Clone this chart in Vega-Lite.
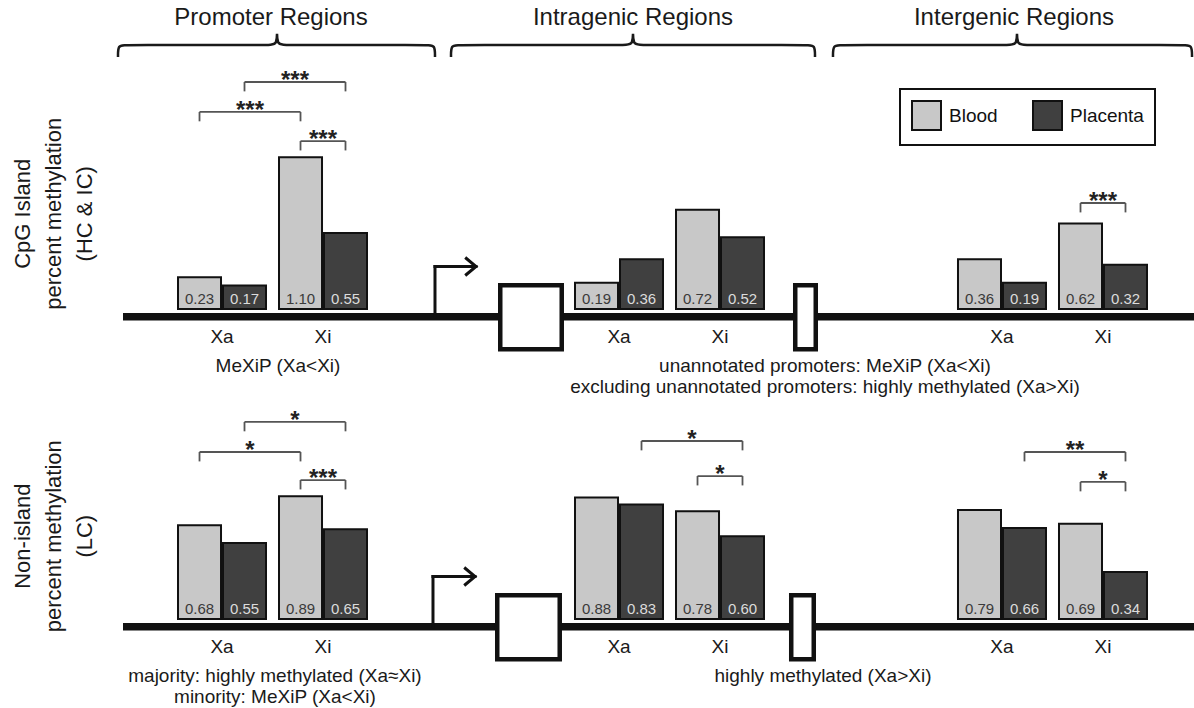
{
  "$schema": "https://vega.github.io/schema/vega-lite/v6.json",
  "padding": 0,
  "background": "white",
  "config": {
    "view": {"stroke": null},
    "font": "Liberation Sans",
    "text": {"font": "Liberation Sans"},
    "legend": {"strokeColor": "#111", "strokeWidth": 2}
  },
  "resolve": {"scale": {"fill": "independent"}, "legend": {"fill": "independent"}},
  "datasets": {
    "d": [
      {"kind": "ylabel", "region": "Label", "row": "CpG Island", "label": "CpG Island\npercent methylation\n(HC & IC)"},
      {"kind": "ylabel", "region": "Label", "row": "Non-island", "label": "Non-island\npercent methylation\n(LC)"},

      {"kind": "title", "region": "Promoter", "row": "CpG Island", "pos": 0.4737, "label": "Promoter Regions"},
      {"kind": "title", "region": "Intragenic", "row": "CpG Island", "pos": 0.4987, "label": "Intragenic Regions"},
      {"kind": "title", "region": "Intergenic", "row": "CpG Island", "pos": 0.5109, "label": "Intergenic Regions"},

      {"kind": "brace", "region": "Promoter", "row": "CpG Island", "seq": 1, "bx": 0, "by": 1.826},
      {"kind": "brace", "region": "Promoter", "row": "CpG Island", "seq": 2, "bx": 0, "by": 1.913},
      {"kind": "brace", "region": "Promoter", "row": "CpG Island", "seq": 3, "bx": 0.0217, "by": 1.913},
      {"kind": "brace", "region": "Promoter", "row": "CpG Island", "seq": 4, "bx": 0.4706, "by": 1.913},
      {"kind": "brace", "region": "Promoter", "row": "CpG Island", "seq": 5, "bx": 0.4923, "by": 1.913},
      {"kind": "brace", "region": "Promoter", "row": "CpG Island", "seq": 6, "bx": 0.4923, "by": 2.036},
      {"kind": "brace", "region": "Promoter", "row": "CpG Island", "seq": 7, "bx": 0.4923, "by": 1.913},
      {"kind": "brace", "region": "Promoter", "row": "CpG Island", "seq": 8, "bx": 0.514, "by": 1.913},
      {"kind": "brace", "region": "Promoter", "row": "CpG Island", "seq": 9, "bx": 0.9597, "by": 1.913},
      {"kind": "brace", "region": "Promoter", "row": "CpG Island", "seq": 10, "bx": 0.9814, "by": 1.913},
      {"kind": "brace", "region": "Promoter", "row": "CpG Island", "seq": 11, "bx": 0.9814, "by": 1.826},

      {"kind": "brace", "region": "Intragenic", "row": "CpG Island", "seq": 1, "bx": 0.026, "by": 1.826},
      {"kind": "brace", "region": "Intragenic", "row": "CpG Island", "seq": 2, "bx": 0.026, "by": 1.913},
      {"kind": "brace", "region": "Intragenic", "row": "CpG Island", "seq": 3, "bx": 0.0442, "by": 1.913},
      {"kind": "brace", "region": "Intragenic", "row": "CpG Island", "seq": 4, "bx": 0.4805, "by": 1.913},
      {"kind": "brace", "region": "Intragenic", "row": "CpG Island", "seq": 5, "bx": 0.4987, "by": 1.913},
      {"kind": "brace", "region": "Intragenic", "row": "CpG Island", "seq": 6, "bx": 0.4987, "by": 2.036},
      {"kind": "brace", "region": "Intragenic", "row": "CpG Island", "seq": 7, "bx": 0.4987, "by": 1.913},
      {"kind": "brace", "region": "Intragenic", "row": "CpG Island", "seq": 8, "bx": 0.5169, "by": 1.913},
      {"kind": "brace", "region": "Intragenic", "row": "CpG Island", "seq": 9, "bx": 0.9532, "by": 1.913},
      {"kind": "brace", "region": "Intragenic", "row": "CpG Island", "seq": 10, "bx": 0.9714, "by": 1.913},
      {"kind": "brace", "region": "Intragenic", "row": "CpG Island", "seq": 11, "bx": 0.9714, "by": 1.826},

      {"kind": "brace", "region": "Intergenic", "row": "CpG Island", "seq": 1, "bx": 0.019, "by": 1.826},
      {"kind": "brace", "region": "Intergenic", "row": "CpG Island", "seq": 2, "bx": 0.019, "by": 1.913},
      {"kind": "brace", "region": "Intergenic", "row": "CpG Island", "seq": 3, "bx": 0.038, "by": 1.913},
      {"kind": "brace", "region": "Intergenic", "row": "CpG Island", "seq": 4, "bx": 0.5, "by": 1.913},
      {"kind": "brace", "region": "Intergenic", "row": "CpG Island", "seq": 5, "bx": 0.519, "by": 1.913},
      {"kind": "brace", "region": "Intergenic", "row": "CpG Island", "seq": 6, "bx": 0.519, "by": 2.036},
      {"kind": "brace", "region": "Intergenic", "row": "CpG Island", "seq": 7, "bx": 0.519, "by": 1.913},
      {"kind": "brace", "region": "Intergenic", "row": "CpG Island", "seq": 8, "bx": 0.538, "by": 1.913},
      {"kind": "brace", "region": "Intergenic", "row": "CpG Island", "seq": 9, "bx": 0.9756, "by": 1.913},
      {"kind": "brace", "region": "Intergenic", "row": "CpG Island", "seq": 10, "bx": 0.9946, "by": 1.913},
      {"kind": "brace", "region": "Intergenic", "row": "CpG Island", "seq": 11, "bx": 0.9946, "by": 1.826},

      {"kind": "base", "region": "Promoter", "row": "CpG Island", "p0": 0.0155, "p1": 1},
      {"kind": "base", "region": "Intragenic", "row": "CpG Island", "p0": 0, "p1": 1},
      {"kind": "base", "region": "Intergenic", "row": "CpG Island", "p0": 0, "p1": 1},
      {"kind": "base", "region": "Promoter", "row": "Non-island", "p0": 0.0155, "p1": 1},
      {"kind": "base", "region": "Intragenic", "row": "Non-island", "p0": 0, "p1": 1},
      {"kind": "base", "region": "Intergenic", "row": "Non-island", "p0": 0, "p1": 1},

      {"kind": "tss", "region": "Promoter", "row": "CpG Island", "p0": 0.9814, "p1": 1.1084},
      {"kind": "tss", "region": "Promoter", "row": "Non-island", "p0": 0.9752, "p1": 1.1053},

      {"kind": "exon", "region": "Intragenic", "row": "CpG Island", "p0": 0.1539, "p1": 0.3136},
      {"kind": "exon", "region": "Intragenic", "row": "CpG Island", "p0": 0.9201, "p1": 0.9734},
      {"kind": "exon", "region": "Intragenic", "row": "Non-island", "p0": 0.1461, "p1": 0.3084},
      {"kind": "exon", "region": "Intragenic", "row": "Non-island", "p0": 0.9097, "p1": 0.9682},

      {"kind": "note", "region": "Promoter", "row": "CpG Island", "pos": 0.4954, "label": "MeXiP (Xa<Xi)"},
      {"kind": "note", "region": "Intragenic", "row": "CpG Island", "pos": 0.9974, "label": "unannotated promoters: MeXiP (Xa<Xi)\nexcluding unannotated promoters: highly methylated (Xa>Xi)"},
      {"kind": "note", "region": "Promoter", "row": "Non-island", "pos": 0.486, "label": "majority: highly methylated (Xa≈Xi)\nminority: MeXiP (Xa<Xi)"},
      {"kind": "note", "region": "Intragenic", "row": "Non-island", "pos": 0.9922, "label": "highly methylated (Xa>Xi)"},

      {"kind": "bar", "row": "CpG Island", "region": "Promoter", "chrom": "Xa", "tissue": "Blood", "value": 0.23},
      {"kind": "bar", "row": "CpG Island", "region": "Promoter", "chrom": "Xa", "tissue": "Placenta", "value": 0.17},
      {"kind": "bar", "row": "CpG Island", "region": "Promoter", "chrom": "Xi", "tissue": "Blood", "value": 1.10},
      {"kind": "bar", "row": "CpG Island", "region": "Promoter", "chrom": "Xi", "tissue": "Placenta", "value": 0.55},
      {"kind": "bar", "row": "CpG Island", "region": "Intragenic", "chrom": "Xa", "tissue": "Blood", "value": 0.19},
      {"kind": "bar", "row": "CpG Island", "region": "Intragenic", "chrom": "Xa", "tissue": "Placenta", "value": 0.36},
      {"kind": "bar", "row": "CpG Island", "region": "Intragenic", "chrom": "Xi", "tissue": "Blood", "value": 0.72},
      {"kind": "bar", "row": "CpG Island", "region": "Intragenic", "chrom": "Xi", "tissue": "Placenta", "value": 0.52},
      {"kind": "bar", "row": "CpG Island", "region": "Intergenic", "chrom": "Xa", "tissue": "Blood", "value": 0.36},
      {"kind": "bar", "row": "CpG Island", "region": "Intergenic", "chrom": "Xa", "tissue": "Placenta", "value": 0.19},
      {"kind": "bar", "row": "CpG Island", "region": "Intergenic", "chrom": "Xi", "tissue": "Blood", "value": 0.62},
      {"kind": "bar", "row": "CpG Island", "region": "Intergenic", "chrom": "Xi", "tissue": "Placenta", "value": 0.32},
      {"kind": "bar", "row": "Non-island", "region": "Promoter", "chrom": "Xa", "tissue": "Blood", "value": 0.68},
      {"kind": "bar", "row": "Non-island", "region": "Promoter", "chrom": "Xa", "tissue": "Placenta", "value": 0.55},
      {"kind": "bar", "row": "Non-island", "region": "Promoter", "chrom": "Xi", "tissue": "Blood", "value": 0.89},
      {"kind": "bar", "row": "Non-island", "region": "Promoter", "chrom": "Xi", "tissue": "Placenta", "value": 0.65},
      {"kind": "bar", "row": "Non-island", "region": "Intragenic", "chrom": "Xa", "tissue": "Blood", "value": 0.88},
      {"kind": "bar", "row": "Non-island", "region": "Intragenic", "chrom": "Xa", "tissue": "Placenta", "value": 0.83},
      {"kind": "bar", "row": "Non-island", "region": "Intragenic", "chrom": "Xi", "tissue": "Blood", "value": 0.78},
      {"kind": "bar", "row": "Non-island", "region": "Intragenic", "chrom": "Xi", "tissue": "Placenta", "value": 0.60},
      {"kind": "bar", "row": "Non-island", "region": "Intergenic", "chrom": "Xa", "tissue": "Blood", "value": 0.79},
      {"kind": "bar", "row": "Non-island", "region": "Intergenic", "chrom": "Xa", "tissue": "Placenta", "value": 0.66},
      {"kind": "bar", "row": "Non-island", "region": "Intergenic", "chrom": "Xi", "tissue": "Blood", "value": 0.69},
      {"kind": "bar", "row": "Non-island", "region": "Intergenic", "chrom": "Xi", "tissue": "Placenta", "value": 0.34},

      {"kind": "bkt", "row": "CpG Island", "region": "Promoter", "id": "c1", "chrom": "Xa", "tissue": "Placenta", "top": 1.645, "foot": 1.577},
      {"kind": "bkt", "row": "CpG Island", "region": "Promoter", "id": "c1", "chrom": "Xi", "tissue": "Placenta", "top": 1.645, "foot": 1.577},
      {"kind": "bkt", "row": "CpG Island", "region": "Promoter", "id": "c2", "chrom": "Xa", "tissue": "Blood", "top": 1.428, "foot": 1.36},
      {"kind": "bkt", "row": "CpG Island", "region": "Promoter", "id": "c2", "chrom": "Xi", "tissue": "Blood", "top": 1.428, "foot": 1.36},
      {"kind": "bkt", "row": "CpG Island", "region": "Promoter", "id": "c3", "chrom": "Xi", "tissue": "Blood", "top": 1.217, "foot": 1.149},
      {"kind": "bkt", "row": "CpG Island", "region": "Promoter", "id": "c3", "chrom": "Xi", "tissue": "Placenta", "top": 1.217, "foot": 1.149},
      {"kind": "bkt", "row": "CpG Island", "region": "Intergenic", "id": "c4", "chrom": "Xi", "tissue": "Blood", "top": 0.768, "foot": 0.7},
      {"kind": "bkt", "row": "CpG Island", "region": "Intergenic", "id": "c4", "chrom": "Xi", "tissue": "Placenta", "top": 0.768, "foot": 0.7},
      {"kind": "bkt", "row": "Non-island", "region": "Promoter", "id": "n1", "chrom": "Xa", "tissue": "Placenta", "top": 1.428, "foot": 1.36},
      {"kind": "bkt", "row": "Non-island", "region": "Promoter", "id": "n1", "chrom": "Xi", "tissue": "Placenta", "top": 1.428, "foot": 1.36},
      {"kind": "bkt", "row": "Non-island", "region": "Promoter", "id": "n2", "chrom": "Xa", "tissue": "Blood", "top": 1.21, "foot": 1.142},
      {"kind": "bkt", "row": "Non-island", "region": "Promoter", "id": "n2", "chrom": "Xi", "tissue": "Blood", "top": 1.21, "foot": 1.142},
      {"kind": "bkt", "row": "Non-island", "region": "Promoter", "id": "n3", "chrom": "Xi", "tissue": "Blood", "top": 1.007, "foot": 0.939},
      {"kind": "bkt", "row": "Non-island", "region": "Promoter", "id": "n3", "chrom": "Xi", "tissue": "Placenta", "top": 1.007, "foot": 0.939},
      {"kind": "bkt", "row": "Non-island", "region": "Intragenic", "id": "n4", "chrom": "Xa", "tissue": "Placenta", "top": 1.29, "foot": 1.222},
      {"kind": "bkt", "row": "Non-island", "region": "Intragenic", "id": "n4", "chrom": "Xi", "tissue": "Placenta", "top": 1.29, "foot": 1.222},
      {"kind": "bkt", "row": "Non-island", "region": "Intragenic", "id": "n5", "chrom": "Xi", "tissue": "Blood", "top": 1.036, "foot": 0.968},
      {"kind": "bkt", "row": "Non-island", "region": "Intragenic", "id": "n5", "chrom": "Xi", "tissue": "Placenta", "top": 1.036, "foot": 0.968},
      {"kind": "bkt", "row": "Non-island", "region": "Intergenic", "id": "n6", "chrom": "Xa", "tissue": "Placenta", "top": 1.21, "foot": 1.142},
      {"kind": "bkt", "row": "Non-island", "region": "Intergenic", "id": "n6", "chrom": "Xi", "tissue": "Placenta", "top": 1.21, "foot": 1.142},
      {"kind": "bkt", "row": "Non-island", "region": "Intergenic", "id": "n7", "chrom": "Xi", "tissue": "Blood", "top": 0.993, "foot": 0.925},
      {"kind": "bkt", "row": "Non-island", "region": "Intergenic", "id": "n7", "chrom": "Xi", "tissue": "Placenta", "top": 0.993, "foot": 0.925},

      {"kind": "star", "row": "CpG Island", "region": "Promoter", "span": "Placenta", "chrom": "Xa", "top": 1.645, "stars": "***"},
      {"kind": "star", "row": "CpG Island", "region": "Promoter", "span": "Blood", "chrom": "Xa", "top": 1.428, "stars": "***"},
      {"kind": "star", "row": "CpG Island", "region": "Promoter", "span": "Xi", "chrom": "Xi", "top": 1.217, "stars": "***"},
      {"kind": "star", "row": "CpG Island", "region": "Intergenic", "span": "Xi", "chrom": "Xi", "top": 0.768, "stars": "***"},
      {"kind": "star", "row": "Non-island", "region": "Promoter", "span": "Placenta", "chrom": "Xa", "top": 1.428, "stars": "*"},
      {"kind": "star", "row": "Non-island", "region": "Promoter", "span": "Blood", "chrom": "Xa", "top": 1.21, "stars": "*"},
      {"kind": "star", "row": "Non-island", "region": "Promoter", "span": "Xi", "chrom": "Xi", "top": 1.007, "stars": "***"},
      {"kind": "star", "row": "Non-island", "region": "Intragenic", "span": "Placenta", "chrom": "Xa", "top": 1.29, "stars": "*"},
      {"kind": "star", "row": "Non-island", "region": "Intragenic", "span": "Xi", "chrom": "Xi", "top": 1.036, "stars": "*"},
      {"kind": "star", "row": "Non-island", "region": "Intergenic", "span": "Placenta", "chrom": "Xa", "top": 1.21, "stars": "**"},
      {"kind": "star", "row": "Non-island", "region": "Intergenic", "span": "Xi", "chrom": "Xi", "top": 0.993, "stars": "*"}
    ]
  },
  "columns": 4,
  "spacing": 0,
  "bounds": "flush",
  "align": "each",
  "concat": [
    {
      "width": 118, "height": 310,
      "data": {"name": "d"},
      "transform": [{"filter": "datum.region === 'Label' && datum.row === 'CpG Island'"}],
      "mark": {"type": "text", "fontSize": 22, "angle": 270, "baseline": "middle", "align": "center", "lineBreak": "\n", "lineHeight": 31, "dy": -36, "color": "#1a1a1a"},
      "encoding": {
        "y": {"datum": 0.69, "type": "quantitative", "scale": {"domain": [-0.0072, 2.2391], "nice": false, "zero": false}, "axis": null},
        "text": {"field": "label", "type": "nominal"}
      }
    },
    {
      "width": 323, "height": 310,
      "data": {"name": "d"},
      "transform": [{"filter": "datum.region === 'Promoter' && datum.row === 'CpG Island'"}],
      "resolve": {"scale": {"x": "independent", "xOffset": "independent"}},
      "layer": [
        {"layer": [
          {"transform": [{"filter": "datum.kind === 'base'"}],
           "mark": {"type": "rule", "strokeWidth": 7.5, "color": "#111", "strokeCap": "butt"},
           "encoding": {"x": {"field": "p0", "type": "quantitative", "scale": {"domain": [0, 1], "nice": false, "zero": false}, "axis": null}, "x2": {"field": "p1"},
                        "y": {"datum": -0.056, "type": "quantitative", "scale": {"domain": [-0.0072, 2.2391], "nice": false, "zero": false}, "axis": null}}},
          {"transform": [{"filter": "datum.kind === 'tss'"}],
           "mark": {"type": "rule", "strokeWidth": 3, "color": "#111", "strokeCap": "square"},
           "encoding": {"x": {"field": "p0", "type": "quantitative", "scale": {"domain": [0, 1], "nice": false, "zero": false}, "axis": null},
                        "y": {"datum": -0.056, "type": "quantitative", "scale": {"domain": [-0.0072, 2.2391], "nice": false, "zero": false}, "axis": null}, "y2": {"datum": 0.308}}},
          {"transform": [{"filter": "datum.kind === 'tss'"}],
           "mark": {"type": "rule", "strokeWidth": 3, "color": "#111", "strokeCap": "square"},
           "encoding": {"x": {"field": "p0", "type": "quantitative", "scale": {"domain": [0, 1], "nice": false, "zero": false}, "axis": null}, "x2": {"field": "p1"},
                        "y": {"datum": 0.308, "type": "quantitative", "scale": {"domain": [-0.0072, 2.2391], "nice": false, "zero": false}, "axis": null}}},
          {"transform": [{"filter": "datum.kind === 'tss'"}],
           "mark": {"type": "point", "shape": "M -1.2 -1 L 0 0 L -1.2 1", "size": 324, "filled": false, "color": "#111", "strokeWidth": 3, "opacity": 1},
           "encoding": {"x": {"field": "p1", "type": "quantitative", "scale": {"domain": [0, 1], "nice": false, "zero": false}, "axis": null},
                        "y": {"datum": 0.308, "type": "quantitative", "scale": {"domain": [-0.0072, 2.2391], "nice": false, "zero": false}, "axis": null}}},
          {"transform": [{"filter": "datum.kind === 'brace'"}],
           "mark": {"type": "line", "interpolate": "basis", "strokeWidth": 2.5, "color": "#1a1a1a"},
           "encoding": {"x": {"field": "bx", "type": "quantitative", "scale": {"domain": [0, 1], "nice": false, "zero": false}, "axis": null},
                        "y": {"field": "by", "type": "quantitative", "scale": {"domain": [-0.0072, 2.2391], "nice": false, "zero": false}, "axis": null},
                        "order": {"field": "seq", "type": "quantitative"}}},
          {"transform": [{"filter": "datum.kind === 'title'"}],
           "mark": {"type": "text", "fontSize": 24, "baseline": "middle", "color": "#1a1a1a"},
           "encoding": {"x": {"field": "pos", "type": "quantitative", "scale": {"domain": [0, 1], "nice": false, "zero": false}, "axis": null},
                        "y": {"datum": 2.109, "type": "quantitative", "scale": {"domain": [-0.0072, 2.2391], "nice": false, "zero": false}, "axis": null},
                        "text": {"field": "label", "type": "nominal"}}},
          {"transform": [{"filter": "datum.kind === 'note'"}],
           "mark": {"type": "text", "fontSize": 19, "baseline": "alphabetic", "lineBreak": "\n", "lineHeight": 21, "color": "#1a1a1a"},
           "encoding": {"x": {"field": "pos", "type": "quantitative", "scale": {"domain": [0, 1], "nice": false, "zero": false}, "axis": null},
                        "y": {"datum": -0.46, "type": "quantitative", "scale": {"domain": [-0.0072, 2.2391], "nice": false, "zero": false}, "axis": null},
                        "text": {"field": "label", "type": "nominal"}}}
        ]},
        {"layer": [
          {"transform": [{"filter": "datum.kind === 'bar'"}],
           "mark": {"type": "bar", "stroke": "#111", "strokeWidth": 2},
           "encoding": {
             "x": {"field": "chrom", "type": "nominal", "scale": {"domain": ["Xa", "Xi"], "paddingInner": 0.1287, "paddingOuter": 0.6634, "align": 0.4478}, "axis": null},
             "xOffset": {"field": "tissue", "type": "nominal", "scale": {"domain": ["Blood", "Placenta"], "paddingInner": 0.044, "paddingOuter": 0}},
             "y": {"field": "value", "type": "quantitative", "scale": {"domain": [-0.0072, 2.2391], "nice": false, "zero": false}, "axis": null},
             "fill": {"field": "tissue", "type": "nominal", "scale": {"domain": ["Blood", "Placenta"], "range": ["#c8c8c8", "#404040"]}, "legend": null}}},
          {"transform": [{"filter": "datum.kind === 'bar'"}],
           "mark": {"type": "text", "fontSize": 15, "baseline": "middle"},
           "encoding": {
             "x": {"field": "chrom", "type": "nominal"},
             "xOffset": {"field": "tissue", "type": "nominal"},
             "y": {"datum": 0.072, "type": "quantitative", "scale": {"domain": [-0.0072, 2.2391], "nice": false, "zero": false}},
             "text": {"field": "value", "type": "quantitative", "format": ".2f"},
             "color": {"condition": {"test": "datum.tissue === 'Blood'", "value": "#3a3a3a"}, "value": "#dcdcdc"}}},
          {"transform": [{"filter": "datum.kind === 'bar' && datum.tissue === 'Blood'"}],
           "mark": {"type": "text", "fontSize": 19, "baseline": "middle", "color": "#1a1a1a"},
           "encoding": {
             "x": {"field": "chrom", "type": "nominal"},
             "y": {"datum": -0.203, "type": "quantitative", "scale": {"domain": [-0.0072, 2.2391], "nice": false, "zero": false}},
             "text": {"field": "chrom", "type": "nominal"}}},
          {"transform": [{"filter": "datum.kind === 'bkt'"}],
           "mark": {"type": "line", "color": "#555", "strokeWidth": 1.8},
           "encoding": {
             "x": {"field": "chrom", "type": "nominal"},
             "xOffset": {"field": "tissue", "type": "nominal"},
             "y": {"field": "top", "type": "quantitative", "scale": {"domain": [-0.0072, 2.2391], "nice": false, "zero": false}},
             "detail": {"field": "id", "type": "nominal"}}},
          {"transform": [{"filter": "datum.kind === 'bkt'"}],
           "mark": {"type": "rule", "color": "#555", "strokeWidth": 1.8},
           "encoding": {
             "x": {"field": "chrom", "type": "nominal"},
             "xOffset": {"field": "tissue", "type": "nominal"},
             "y": {"field": "top", "type": "quantitative", "scale": {"domain": [-0.0072, 2.2391], "nice": false, "zero": false}},
             "y2": {"field": "foot"}}},
          {"transform": [{"filter": "datum.kind === 'star' && datum.span === 'Blood'"}],
           "mark": {"type": "text", "fontSize": 24, "fontWeight": "bold", "baseline": "alphabetic", "dy": 6, "color": "#222"},
           "encoding": {
             "x": {"field": "chrom", "type": "nominal", "bandPosition": 0.818},
             "y": {"field": "top", "type": "quantitative", "scale": {"domain": [-0.0072, 2.2391], "nice": false, "zero": false}},
             "text": {"field": "stars", "type": "nominal"}}},
          {"transform": [{"filter": "datum.kind === 'star' && datum.span === 'Placenta'"}],
           "mark": {"type": "text", "fontSize": 24, "fontWeight": "bold", "baseline": "alphabetic", "dy": 6, "color": "#222"},
           "encoding": {
             "x": {"field": "chrom", "type": "nominal", "bandPosition": 1.33},
             "y": {"field": "top", "type": "quantitative", "scale": {"domain": [-0.0072, 2.2391], "nice": false, "zero": false}},
             "text": {"field": "stars", "type": "nominal"}}},
          {"transform": [{"filter": "datum.kind === 'star' && datum.span === 'Xi'"}],
           "mark": {"type": "text", "fontSize": 24, "fontWeight": "bold", "baseline": "alphabetic", "dy": 6, "color": "#222"},
           "encoding": {
             "x": {"field": "chrom", "type": "nominal", "bandPosition": 0.5},
             "y": {"field": "top", "type": "quantitative", "scale": {"domain": [-0.0072, 2.2391], "nice": false, "zero": false}},
             "text": {"field": "stars", "type": "nominal"}}}
        ]}
      ]
    },
    {
      "width": 385, "height": 310,
      "data": {"name": "d"},
      "transform": [{"filter": "datum.region === 'Intragenic' && datum.row === 'CpG Island'"}],
      "resolve": {"scale": {"x": "independent", "xOffset": "independent"}},
      "layer": [
        {"layer": [
          {"transform": [{"filter": "datum.kind === 'base'"}],
           "mark": {"type": "rule", "strokeWidth": 7.5, "color": "#111", "strokeCap": "butt"},
           "encoding": {"x": {"field": "p0", "type": "quantitative", "scale": {"domain": [0, 1], "nice": false, "zero": false}, "axis": null}, "x2": {"field": "p1"},
                        "y": {"datum": -0.056, "type": "quantitative", "scale": {"domain": [-0.0072, 2.2391], "nice": false, "zero": false}, "axis": null}}},
          {"transform": [{"filter": "datum.kind === 'exon'"}],
           "mark": {"type": "rect", "fill": "white", "stroke": "#111", "strokeWidth": 4.5},
           "encoding": {"x": {"field": "p0", "type": "quantitative", "scale": {"domain": [0, 1], "nice": false, "zero": false}, "axis": null}, "x2": {"field": "p1"},
                        "y": {"datum": 0.172, "type": "quantitative", "scale": {"domain": [-0.0072, 2.2391], "nice": false, "zero": false}, "axis": null}, "y2": {"datum": -0.292}}},
          {"transform": [{"filter": "datum.kind === 'brace'"}],
           "mark": {"type": "line", "interpolate": "basis", "strokeWidth": 2.5, "color": "#1a1a1a"},
           "encoding": {"x": {"field": "bx", "type": "quantitative", "scale": {"domain": [0, 1], "nice": false, "zero": false}, "axis": null},
                        "y": {"field": "by", "type": "quantitative", "scale": {"domain": [-0.0072, 2.2391], "nice": false, "zero": false}, "axis": null},
                        "order": {"field": "seq", "type": "quantitative"}}},
          {"transform": [{"filter": "datum.kind === 'title'"}],
           "mark": {"type": "text", "fontSize": 24, "baseline": "middle", "color": "#1a1a1a"},
           "encoding": {"x": {"field": "pos", "type": "quantitative", "scale": {"domain": [0, 1], "nice": false, "zero": false}, "axis": null},
                        "y": {"datum": 2.109, "type": "quantitative", "scale": {"domain": [-0.0072, 2.2391], "nice": false, "zero": false}, "axis": null},
                        "text": {"field": "label", "type": "nominal"}}},
          {"transform": [{"filter": "datum.kind === 'note'"}],
           "mark": {"type": "text", "fontSize": 19, "baseline": "alphabetic", "lineBreak": "\n", "lineHeight": 21, "color": "#1a1a1a"},
           "encoding": {"x": {"field": "pos", "type": "quantitative", "scale": {"domain": [0, 1], "nice": false, "zero": false}, "axis": null},
                        "y": {"datum": -0.46, "type": "quantitative", "scale": {"domain": [-0.0072, 2.2391], "nice": false, "zero": false}, "axis": null},
                        "text": {"field": "label", "type": "nominal"}}}
        ]},
        {"layer": [
          {"transform": [{"filter": "datum.kind === 'bar'"}],
           "mark": {"type": "bar", "stroke": "#111", "strokeWidth": 2},
           "encoding": {
             "x": {"field": "chrom", "type": "nominal", "scale": {"domain": ["Xa", "Xi"], "paddingInner": 0.1287, "paddingOuter": 0.9703, "align": 0.6837}, "axis": null},
             "xOffset": {"field": "tissue", "type": "nominal", "scale": {"domain": ["Blood", "Placenta"], "paddingInner": 0.044, "paddingOuter": 0}},
             "y": {"field": "value", "type": "quantitative", "scale": {"domain": [-0.0072, 2.2391], "nice": false, "zero": false}, "axis": null},
             "fill": {"field": "tissue", "type": "nominal", "scale": {"domain": ["Blood", "Placenta"], "range": ["#c8c8c8", "#404040"]}, "legend": null}}},
          {"transform": [{"filter": "datum.kind === 'bar'"}],
           "mark": {"type": "text", "fontSize": 15, "baseline": "middle"},
           "encoding": {
             "x": {"field": "chrom", "type": "nominal"},
             "xOffset": {"field": "tissue", "type": "nominal"},
             "y": {"datum": 0.072, "type": "quantitative", "scale": {"domain": [-0.0072, 2.2391], "nice": false, "zero": false}},
             "text": {"field": "value", "type": "quantitative", "format": ".2f"},
             "color": {"condition": {"test": "datum.tissue === 'Blood'", "value": "#3a3a3a"}, "value": "#dcdcdc"}}},
          {"transform": [{"filter": "datum.kind === 'bar' && datum.tissue === 'Blood'"}],
           "mark": {"type": "text", "fontSize": 19, "baseline": "middle", "color": "#1a1a1a"},
           "encoding": {
             "x": {"field": "chrom", "type": "nominal"},
             "y": {"datum": -0.203, "type": "quantitative", "scale": {"domain": [-0.0072, 2.2391], "nice": false, "zero": false}},
             "text": {"field": "chrom", "type": "nominal"}}}
        ]}
      ]
    },
    {
      "width": 368, "height": 310,
      "data": {"name": "d"},
      "transform": [{"filter": "datum.region === 'Intergenic' && datum.row === 'CpG Island'"}],
      "resolve": {"scale": {"x": "independent", "xOffset": "independent"}},
      "layer": [
        {"layer": [
          {"transform": [{"filter": "datum.kind === 'base'"}],
           "mark": {"type": "rule", "strokeWidth": 7.5, "color": "#111", "strokeCap": "butt"},
           "encoding": {"x": {"field": "p0", "type": "quantitative", "scale": {"domain": [0, 1], "nice": false, "zero": false}, "axis": null}, "x2": {"field": "p1"},
                        "y": {"datum": -0.056, "type": "quantitative", "scale": {"domain": [-0.0072, 2.2391], "nice": false, "zero": false}, "axis": null}}},
          {"transform": [{"filter": "datum.kind === 'brace'"}],
           "mark": {"type": "line", "interpolate": "basis", "strokeWidth": 2.5, "color": "#1a1a1a"},
           "encoding": {"x": {"field": "bx", "type": "quantitative", "scale": {"domain": [0, 1], "nice": false, "zero": false}, "axis": null},
                        "y": {"field": "by", "type": "quantitative", "scale": {"domain": [-0.0072, 2.2391], "nice": false, "zero": false}, "axis": null},
                        "order": {"field": "seq", "type": "quantitative"}}},
          {"transform": [{"filter": "datum.kind === 'title'"}],
           "mark": {"type": "text", "fontSize": 24, "baseline": "middle", "color": "#1a1a1a"},
           "encoding": {"x": {"field": "pos", "type": "quantitative", "scale": {"domain": [0, 1], "nice": false, "zero": false}, "axis": null},
                        "y": {"datum": 2.109, "type": "quantitative", "scale": {"domain": [-0.0072, 2.2391], "nice": false, "zero": false}, "axis": null},
                        "text": {"field": "label", "type": "nominal"}}}
        ]},
        {"layer": [
          {"transform": [{"filter": "datum.kind === 'bar'"}],
           "mark": {"type": "bar", "stroke": "#111", "strokeWidth": 2},
           "encoding": {
             "x": {"field": "chrom", "type": "nominal", "scale": {"domain": ["Xa", "Xi"], "paddingInner": 0.1287, "paddingOuter": 0.8861, "align": 0.7374}, "axis": null},
             "xOffset": {"field": "tissue", "type": "nominal", "scale": {"domain": ["Blood", "Placenta"], "paddingInner": 0.044, "paddingOuter": 0}},
             "y": {"field": "value", "type": "quantitative", "scale": {"domain": [-0.0072, 2.2391], "nice": false, "zero": false}, "axis": null},
             "fill": {"field": "tissue", "type": "nominal", "scale": {"domain": ["Blood", "Placenta"], "range": ["#c8c8c8", "#404040"]},
                      "legend": {"orient": "none", "legendX": 74, "legendY": 89, "direction": "horizontal", "title": null,
                                 "symbolType": "square", "symbolSize": 841, "symbolStrokeColor": "#111", "symbolStrokeWidth": 2, "symbolOpacity": 1,
                                 "labelFontSize": 19, "labelFont": "Liberation Sans", "labelColor": "#111", "labelOffset": 7, "labelLimit": 200,
                                 "columnPadding": 31, "padding": 11, "strokeColor": "#111"}}}},
          {"transform": [{"filter": "datum.kind === 'bar'"}],
           "mark": {"type": "text", "fontSize": 15, "baseline": "middle"},
           "encoding": {
             "x": {"field": "chrom", "type": "nominal"},
             "xOffset": {"field": "tissue", "type": "nominal"},
             "y": {"datum": 0.072, "type": "quantitative", "scale": {"domain": [-0.0072, 2.2391], "nice": false, "zero": false}},
             "text": {"field": "value", "type": "quantitative", "format": ".2f"},
             "color": {"condition": {"test": "datum.tissue === 'Blood'", "value": "#3a3a3a"}, "value": "#dcdcdc"}}},
          {"transform": [{"filter": "datum.kind === 'bar' && datum.tissue === 'Blood'"}],
           "mark": {"type": "text", "fontSize": 19, "baseline": "middle", "color": "#1a1a1a"},
           "encoding": {
             "x": {"field": "chrom", "type": "nominal"},
             "y": {"datum": -0.203, "type": "quantitative", "scale": {"domain": [-0.0072, 2.2391], "nice": false, "zero": false}},
             "text": {"field": "chrom", "type": "nominal"}}},
          {"transform": [{"filter": "datum.kind === 'bkt'"}],
           "mark": {"type": "line", "color": "#555", "strokeWidth": 1.8},
           "encoding": {
             "x": {"field": "chrom", "type": "nominal"},
             "xOffset": {"field": "tissue", "type": "nominal"},
             "y": {"field": "top", "type": "quantitative", "scale": {"domain": [-0.0072, 2.2391], "nice": false, "zero": false}},
             "detail": {"field": "id", "type": "nominal"}}},
          {"transform": [{"filter": "datum.kind === 'bkt'"}],
           "mark": {"type": "rule", "color": "#555", "strokeWidth": 1.8},
           "encoding": {
             "x": {"field": "chrom", "type": "nominal"},
             "xOffset": {"field": "tissue", "type": "nominal"},
             "y": {"field": "top", "type": "quantitative", "scale": {"domain": [-0.0072, 2.2391], "nice": false, "zero": false}},
             "y2": {"field": "foot"}}},
          {"transform": [{"filter": "datum.kind === 'star' && datum.span === 'Xi'"}],
           "mark": {"type": "text", "fontSize": 24, "fontWeight": "bold", "baseline": "alphabetic", "dy": 6, "color": "#222"},
           "encoding": {
             "x": {"field": "chrom", "type": "nominal", "bandPosition": 0.5},
             "y": {"field": "top", "type": "quantitative", "scale": {"domain": [-0.0072, 2.2391], "nice": false, "zero": false}},
             "text": {"field": "stars", "type": "nominal"}}}
        ]}
      ]
    },
    {
      "width": 118, "height": 310,
      "data": {"name": "d"},
      "transform": [{"filter": "datum.region === 'Label' && datum.row === 'Non-island'"}],
      "mark": {"type": "text", "fontSize": 22, "angle": 270, "baseline": "middle", "align": "center", "lineBreak": "\n", "lineHeight": 31, "dy": -36, "color": "#1a1a1a"},
      "encoding": {
        "y": {"datum": 0.6, "type": "quantitative", "scale": {"domain": [-0.0072, 2.2391], "nice": false, "zero": false}, "axis": null},
        "text": {"field": "label", "type": "nominal"}
      }
    },
    {
      "width": 323, "height": 310,
      "data": {"name": "d"},
      "transform": [{"filter": "datum.region === 'Promoter' && datum.row === 'Non-island'"}],
      "resolve": {"scale": {"x": "independent", "xOffset": "independent"}},
      "layer": [
        {"layer": [
          {"transform": [{"filter": "datum.kind === 'base'"}],
           "mark": {"type": "rule", "strokeWidth": 7.5, "color": "#111", "strokeCap": "butt"},
           "encoding": {"x": {"field": "p0", "type": "quantitative", "scale": {"domain": [0, 1], "nice": false, "zero": false}, "axis": null}, "x2": {"field": "p1"},
                        "y": {"datum": -0.056, "type": "quantitative", "scale": {"domain": [-0.0072, 2.2391], "nice": false, "zero": false}, "axis": null}}},
          {"transform": [{"filter": "datum.kind === 'tss'"}],
           "mark": {"type": "rule", "strokeWidth": 3, "color": "#111", "strokeCap": "square"},
           "encoding": {"x": {"field": "p0", "type": "quantitative", "scale": {"domain": [0, 1], "nice": false, "zero": false}, "axis": null},
                        "y": {"datum": -0.056, "type": "quantitative", "scale": {"domain": [-0.0072, 2.2391], "nice": false, "zero": false}, "axis": null}, "y2": {"datum": 0.308}}},
          {"transform": [{"filter": "datum.kind === 'tss'"}],
           "mark": {"type": "rule", "strokeWidth": 3, "color": "#111", "strokeCap": "square"},
           "encoding": {"x": {"field": "p0", "type": "quantitative", "scale": {"domain": [0, 1], "nice": false, "zero": false}, "axis": null}, "x2": {"field": "p1"},
                        "y": {"datum": 0.308, "type": "quantitative", "scale": {"domain": [-0.0072, 2.2391], "nice": false, "zero": false}, "axis": null}}},
          {"transform": [{"filter": "datum.kind === 'tss'"}],
           "mark": {"type": "point", "shape": "M -1.2 -1 L 0 0 L -1.2 1", "size": 324, "filled": false, "color": "#111", "strokeWidth": 3, "opacity": 1},
           "encoding": {"x": {"field": "p1", "type": "quantitative", "scale": {"domain": [0, 1], "nice": false, "zero": false}, "axis": null},
                        "y": {"datum": 0.308, "type": "quantitative", "scale": {"domain": [-0.0072, 2.2391], "nice": false, "zero": false}, "axis": null}}},
          {"transform": [{"filter": "datum.kind === 'note'"}],
           "mark": {"type": "text", "fontSize": 19, "baseline": "alphabetic", "lineBreak": "\n", "lineHeight": 21, "color": "#1a1a1a"},
           "encoding": {"x": {"field": "pos", "type": "quantitative", "scale": {"domain": [0, 1], "nice": false, "zero": false}, "axis": null},
                        "y": {"datum": -0.46, "type": "quantitative", "scale": {"domain": [-0.0072, 2.2391], "nice": false, "zero": false}, "axis": null},
                        "text": {"field": "label", "type": "nominal"}}}
        ]},
        {"layer": [
          {"transform": [{"filter": "datum.kind === 'bar'"}],
           "mark": {"type": "bar", "stroke": "#111", "strokeWidth": 2},
           "encoding": {
             "x": {"field": "chrom", "type": "nominal", "scale": {"domain": ["Xa", "Xi"], "paddingInner": 0.1287, "paddingOuter": 0.6634, "align": 0.4478}, "axis": null},
             "xOffset": {"field": "tissue", "type": "nominal", "scale": {"domain": ["Blood", "Placenta"], "paddingInner": 0.044, "paddingOuter": 0}},
             "y": {"field": "value", "type": "quantitative", "scale": {"domain": [-0.0072, 2.2391], "nice": false, "zero": false}, "axis": null},
             "fill": {"field": "tissue", "type": "nominal", "scale": {"domain": ["Blood", "Placenta"], "range": ["#c8c8c8", "#404040"]}, "legend": null}}},
          {"transform": [{"filter": "datum.kind === 'bar'"}],
           "mark": {"type": "text", "fontSize": 15, "baseline": "middle"},
           "encoding": {
             "x": {"field": "chrom", "type": "nominal"},
             "xOffset": {"field": "tissue", "type": "nominal"},
             "y": {"datum": 0.072, "type": "quantitative", "scale": {"domain": [-0.0072, 2.2391], "nice": false, "zero": false}},
             "text": {"field": "value", "type": "quantitative", "format": ".2f"},
             "color": {"condition": {"test": "datum.tissue === 'Blood'", "value": "#3a3a3a"}, "value": "#dcdcdc"}}},
          {"transform": [{"filter": "datum.kind === 'bar' && datum.tissue === 'Blood'"}],
           "mark": {"type": "text", "fontSize": 19, "baseline": "middle", "color": "#1a1a1a"},
           "encoding": {
             "x": {"field": "chrom", "type": "nominal"},
             "y": {"datum": -0.203, "type": "quantitative", "scale": {"domain": [-0.0072, 2.2391], "nice": false, "zero": false}},
             "text": {"field": "chrom", "type": "nominal"}}},
          {"transform": [{"filter": "datum.kind === 'bkt'"}],
           "mark": {"type": "line", "color": "#555", "strokeWidth": 1.8},
           "encoding": {
             "x": {"field": "chrom", "type": "nominal"},
             "xOffset": {"field": "tissue", "type": "nominal"},
             "y": {"field": "top", "type": "quantitative", "scale": {"domain": [-0.0072, 2.2391], "nice": false, "zero": false}},
             "detail": {"field": "id", "type": "nominal"}}},
          {"transform": [{"filter": "datum.kind === 'bkt'"}],
           "mark": {"type": "rule", "color": "#555", "strokeWidth": 1.8},
           "encoding": {
             "x": {"field": "chrom", "type": "nominal"},
             "xOffset": {"field": "tissue", "type": "nominal"},
             "y": {"field": "top", "type": "quantitative", "scale": {"domain": [-0.0072, 2.2391], "nice": false, "zero": false}},
             "y2": {"field": "foot"}}},
          {"transform": [{"filter": "datum.kind === 'star' && datum.span === 'Blood'"}],
           "mark": {"type": "text", "fontSize": 24, "fontWeight": "bold", "baseline": "alphabetic", "dy": 6, "color": "#222"},
           "encoding": {
             "x": {"field": "chrom", "type": "nominal", "bandPosition": 0.818},
             "y": {"field": "top", "type": "quantitative", "scale": {"domain": [-0.0072, 2.2391], "nice": false, "zero": false}},
             "text": {"field": "stars", "type": "nominal"}}},
          {"transform": [{"filter": "datum.kind === 'star' && datum.span === 'Placenta'"}],
           "mark": {"type": "text", "fontSize": 24, "fontWeight": "bold", "baseline": "alphabetic", "dy": 6, "color": "#222"},
           "encoding": {
             "x": {"field": "chrom", "type": "nominal", "bandPosition": 1.33},
             "y": {"field": "top", "type": "quantitative", "scale": {"domain": [-0.0072, 2.2391], "nice": false, "zero": false}},
             "text": {"field": "stars", "type": "nominal"}}},
          {"transform": [{"filter": "datum.kind === 'star' && datum.span === 'Xi'"}],
           "mark": {"type": "text", "fontSize": 24, "fontWeight": "bold", "baseline": "alphabetic", "dy": 6, "color": "#222"},
           "encoding": {
             "x": {"field": "chrom", "type": "nominal", "bandPosition": 0.5},
             "y": {"field": "top", "type": "quantitative", "scale": {"domain": [-0.0072, 2.2391], "nice": false, "zero": false}},
             "text": {"field": "stars", "type": "nominal"}}}
        ]}
      ]
    },
    {
      "width": 385, "height": 310,
      "data": {"name": "d"},
      "transform": [{"filter": "datum.region === 'Intragenic' && datum.row === 'Non-island'"}],
      "resolve": {"scale": {"x": "independent", "xOffset": "independent"}},
      "layer": [
        {"layer": [
          {"transform": [{"filter": "datum.kind === 'base'"}],
           "mark": {"type": "rule", "strokeWidth": 7.5, "color": "#111", "strokeCap": "butt"},
           "encoding": {"x": {"field": "p0", "type": "quantitative", "scale": {"domain": [0, 1], "nice": false, "zero": false}, "axis": null}, "x2": {"field": "p1"},
                        "y": {"datum": -0.056, "type": "quantitative", "scale": {"domain": [-0.0072, 2.2391], "nice": false, "zero": false}, "axis": null}}},
          {"transform": [{"filter": "datum.kind === 'exon'"}],
           "mark": {"type": "rect", "fill": "white", "stroke": "#111", "strokeWidth": 4.5},
           "encoding": {"x": {"field": "p0", "type": "quantitative", "scale": {"domain": [0, 1], "nice": false, "zero": false}, "axis": null}, "x2": {"field": "p1"},
                        "y": {"datum": 0.172, "type": "quantitative", "scale": {"domain": [-0.0072, 2.2391], "nice": false, "zero": false}, "axis": null}, "y2": {"datum": -0.292}}},
          {"transform": [{"filter": "datum.kind === 'note'"}],
           "mark": {"type": "text", "fontSize": 19, "baseline": "alphabetic", "lineBreak": "\n", "lineHeight": 21, "color": "#1a1a1a"},
           "encoding": {"x": {"field": "pos", "type": "quantitative", "scale": {"domain": [0, 1], "nice": false, "zero": false}, "axis": null},
                        "y": {"datum": -0.46, "type": "quantitative", "scale": {"domain": [-0.0072, 2.2391], "nice": false, "zero": false}, "axis": null},
                        "text": {"field": "label", "type": "nominal"}}}
        ]},
        {"layer": [
          {"transform": [{"filter": "datum.kind === 'bar'"}],
           "mark": {"type": "bar", "stroke": "#111", "strokeWidth": 2},
           "encoding": {
             "x": {"field": "chrom", "type": "nominal", "scale": {"domain": ["Xa", "Xi"], "paddingInner": 0.1287, "paddingOuter": 0.9703, "align": 0.6837}, "axis": null},
             "xOffset": {"field": "tissue", "type": "nominal", "scale": {"domain": ["Blood", "Placenta"], "paddingInner": 0.044, "paddingOuter": 0}},
             "y": {"field": "value", "type": "quantitative", "scale": {"domain": [-0.0072, 2.2391], "nice": false, "zero": false}, "axis": null},
             "fill": {"field": "tissue", "type": "nominal", "scale": {"domain": ["Blood", "Placenta"], "range": ["#c8c8c8", "#404040"]}, "legend": null}}},
          {"transform": [{"filter": "datum.kind === 'bar'"}],
           "mark": {"type": "text", "fontSize": 15, "baseline": "middle"},
           "encoding": {
             "x": {"field": "chrom", "type": "nominal"},
             "xOffset": {"field": "tissue", "type": "nominal"},
             "y": {"datum": 0.072, "type": "quantitative", "scale": {"domain": [-0.0072, 2.2391], "nice": false, "zero": false}},
             "text": {"field": "value", "type": "quantitative", "format": ".2f"},
             "color": {"condition": {"test": "datum.tissue === 'Blood'", "value": "#3a3a3a"}, "value": "#dcdcdc"}}},
          {"transform": [{"filter": "datum.kind === 'bar' && datum.tissue === 'Blood'"}],
           "mark": {"type": "text", "fontSize": 19, "baseline": "middle", "color": "#1a1a1a"},
           "encoding": {
             "x": {"field": "chrom", "type": "nominal"},
             "y": {"datum": -0.203, "type": "quantitative", "scale": {"domain": [-0.0072, 2.2391], "nice": false, "zero": false}},
             "text": {"field": "chrom", "type": "nominal"}}},
          {"transform": [{"filter": "datum.kind === 'bkt'"}],
           "mark": {"type": "line", "color": "#555", "strokeWidth": 1.8},
           "encoding": {
             "x": {"field": "chrom", "type": "nominal"},
             "xOffset": {"field": "tissue", "type": "nominal"},
             "y": {"field": "top", "type": "quantitative", "scale": {"domain": [-0.0072, 2.2391], "nice": false, "zero": false}},
             "detail": {"field": "id", "type": "nominal"}}},
          {"transform": [{"filter": "datum.kind === 'bkt'"}],
           "mark": {"type": "rule", "color": "#555", "strokeWidth": 1.8},
           "encoding": {
             "x": {"field": "chrom", "type": "nominal"},
             "xOffset": {"field": "tissue", "type": "nominal"},
             "y": {"field": "top", "type": "quantitative", "scale": {"domain": [-0.0072, 2.2391], "nice": false, "zero": false}},
             "y2": {"field": "foot"}}},
          {"transform": [{"filter": "datum.kind === 'star' && datum.span === 'Placenta'"}],
           "mark": {"type": "text", "fontSize": 24, "fontWeight": "bold", "baseline": "alphabetic", "dy": 6, "color": "#222"},
           "encoding": {
             "x": {"field": "chrom", "type": "nominal", "bandPosition": 1.33},
             "y": {"field": "top", "type": "quantitative", "scale": {"domain": [-0.0072, 2.2391], "nice": false, "zero": false}},
             "text": {"field": "stars", "type": "nominal"}}},
          {"transform": [{"filter": "datum.kind === 'star' && datum.span === 'Xi'"}],
           "mark": {"type": "text", "fontSize": 24, "fontWeight": "bold", "baseline": "alphabetic", "dy": 6, "color": "#222"},
           "encoding": {
             "x": {"field": "chrom", "type": "nominal", "bandPosition": 0.5},
             "y": {"field": "top", "type": "quantitative", "scale": {"domain": [-0.0072, 2.2391], "nice": false, "zero": false}},
             "text": {"field": "stars", "type": "nominal"}}}
        ]}
      ]
    },
    {
      "width": 368, "height": 310,
      "data": {"name": "d"},
      "transform": [{"filter": "datum.region === 'Intergenic' && datum.row === 'Non-island'"}],
      "resolve": {"scale": {"x": "independent", "xOffset": "independent"}},
      "layer": [
        {"layer": [
          {"transform": [{"filter": "datum.kind === 'base'"}],
           "mark": {"type": "rule", "strokeWidth": 7.5, "color": "#111", "strokeCap": "butt"},
           "encoding": {"x": {"field": "p0", "type": "quantitative", "scale": {"domain": [0, 1], "nice": false, "zero": false}, "axis": null}, "x2": {"field": "p1"},
                        "y": {"datum": -0.056, "type": "quantitative", "scale": {"domain": [-0.0072, 2.2391], "nice": false, "zero": false}, "axis": null}}}
        ]},
        {"layer": [
          {"transform": [{"filter": "datum.kind === 'bar'"}],
           "mark": {"type": "bar", "stroke": "#111", "strokeWidth": 2},
           "encoding": {
             "x": {"field": "chrom", "type": "nominal", "scale": {"domain": ["Xa", "Xi"], "paddingInner": 0.1287, "paddingOuter": 0.8861, "align": 0.7374}, "axis": null},
             "xOffset": {"field": "tissue", "type": "nominal", "scale": {"domain": ["Blood", "Placenta"], "paddingInner": 0.044, "paddingOuter": 0}},
             "y": {"field": "value", "type": "quantitative", "scale": {"domain": [-0.0072, 2.2391], "nice": false, "zero": false}, "axis": null},
             "fill": {"field": "tissue", "type": "nominal", "scale": {"domain": ["Blood", "Placenta"], "range": ["#c8c8c8", "#404040"]}, "legend": null}}},
          {"transform": [{"filter": "datum.kind === 'bar'"}],
           "mark": {"type": "text", "fontSize": 15, "baseline": "middle"},
           "encoding": {
             "x": {"field": "chrom", "type": "nominal"},
             "xOffset": {"field": "tissue", "type": "nominal"},
             "y": {"datum": 0.072, "type": "quantitative", "scale": {"domain": [-0.0072, 2.2391], "nice": false, "zero": false}},
             "text": {"field": "value", "type": "quantitative", "format": ".2f"},
             "color": {"condition": {"test": "datum.tissue === 'Blood'", "value": "#3a3a3a"}, "value": "#dcdcdc"}}},
          {"transform": [{"filter": "datum.kind === 'bar' && datum.tissue === 'Blood'"}],
           "mark": {"type": "text", "fontSize": 19, "baseline": "middle", "color": "#1a1a1a"},
           "encoding": {
             "x": {"field": "chrom", "type": "nominal"},
             "y": {"datum": -0.203, "type": "quantitative", "scale": {"domain": [-0.0072, 2.2391], "nice": false, "zero": false}},
             "text": {"field": "chrom", "type": "nominal"}}},
          {"transform": [{"filter": "datum.kind === 'bkt'"}],
           "mark": {"type": "line", "color": "#555", "strokeWidth": 1.8},
           "encoding": {
             "x": {"field": "chrom", "type": "nominal"},
             "xOffset": {"field": "tissue", "type": "nominal"},
             "y": {"field": "top", "type": "quantitative", "scale": {"domain": [-0.0072, 2.2391], "nice": false, "zero": false}},
             "detail": {"field": "id", "type": "nominal"}}},
          {"transform": [{"filter": "datum.kind === 'bkt'"}],
           "mark": {"type": "rule", "color": "#555", "strokeWidth": 1.8},
           "encoding": {
             "x": {"field": "chrom", "type": "nominal"},
             "xOffset": {"field": "tissue", "type": "nominal"},
             "y": {"field": "top", "type": "quantitative", "scale": {"domain": [-0.0072, 2.2391], "nice": false, "zero": false}},
             "y2": {"field": "foot"}}},
          {"transform": [{"filter": "datum.kind === 'star' && datum.span === 'Placenta'"}],
           "mark": {"type": "text", "fontSize": 24, "fontWeight": "bold", "baseline": "alphabetic", "dy": 6, "color": "#222"},
           "encoding": {
             "x": {"field": "chrom", "type": "nominal", "bandPosition": 1.33},
             "y": {"field": "top", "type": "quantitative", "scale": {"domain": [-0.0072, 2.2391], "nice": false, "zero": false}},
             "text": {"field": "stars", "type": "nominal"}}},
          {"transform": [{"filter": "datum.kind === 'star' && datum.span === 'Xi'"}],
           "mark": {"type": "text", "fontSize": 24, "fontWeight": "bold", "baseline": "alphabetic", "dy": 6, "color": "#222"},
           "encoding": {
             "x": {"field": "chrom", "type": "nominal", "bandPosition": 0.5},
             "y": {"field": "top", "type": "quantitative", "scale": {"domain": [-0.0072, 2.2391], "nice": false, "zero": false}},
             "text": {"field": "stars", "type": "nominal"}}}
        ]}
      ]
    }
  ]
}
